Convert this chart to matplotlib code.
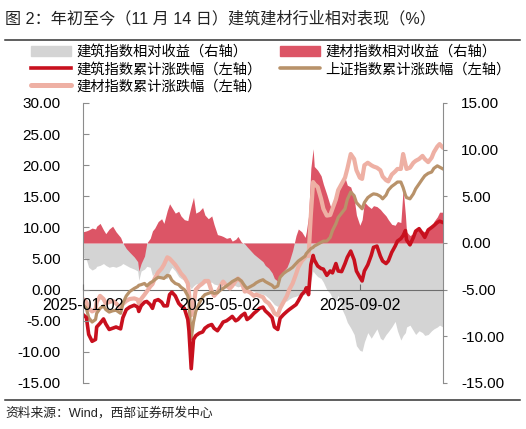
import matplotlib
matplotlib.use('Agg')
import matplotlib.pyplot as plt
import matplotlib.dates as mdates
from matplotlib.lines import Line2D
import pandas as pd

plt.rcParams['font.family'] = ['Liberation Sans', 'Noto Sans CJK SC', 'DejaVu Sans']

dates = pd.to_datetime([
    '2025-01-02', '2025-01-05', '2025-01-07', '2025-01-10', '2025-01-13', '2025-01-14', '2025-01-17', '2025-01-20',
    '2025-01-22', '2025-01-25', '2025-01-28', '2025-01-31', '2025-02-04', '2025-02-06', '2025-02-09', '2025-02-12',
    '2025-02-16', '2025-02-19', '2025-02-20', '2025-02-22', '2025-02-25', '2025-02-27', '2025-03-02', '2025-03-04',
    '2025-03-06', '2025-03-09', '2025-03-12', '2025-03-14', '2025-03-17', '2025-03-19', '2025-03-21', '2025-03-24',
    '2025-03-27', '2025-03-29', '2025-04-01', '2025-04-04', '2025-04-05', '2025-04-07', '2025-04-09', '2025-04-11',
    '2025-04-14', '2025-04-17', '2025-04-19', '2025-04-22', '2025-04-25', '2025-04-27', '2025-04-30', '2025-05-03',
    '2025-05-05', '2025-05-08', '2025-05-11', '2025-05-13', '2025-05-16', '2025-05-18', '2025-05-21', '2025-05-24',
    '2025-05-26', '2025-05-29', '2025-06-01', '2025-06-03', '2025-06-06', '2025-06-09', '2025-06-11', '2025-06-14',
    '2025-06-17', '2025-06-19', '2025-06-22', '2025-06-24', '2025-06-27', '2025-06-30', '2025-07-02', '2025-07-05',
    '2025-07-08', '2025-07-10', '2025-07-13', '2025-07-16', '2025-07-17', '2025-07-19', '2025-07-21', '2025-07-23',
    '2025-07-24', '2025-07-27', '2025-07-30', '2025-08-01', '2025-08-04', '2025-08-07', '2025-08-09', '2025-08-12',
    '2025-08-14', '2025-08-17', '2025-08-20', '2025-08-22', '2025-08-25', '2025-08-28', '2025-08-30', '2025-09-02',
    '2025-09-04', '2025-09-06', '2025-09-09', '2025-09-12', '2025-09-14', '2025-09-17', '2025-09-20', '2025-09-22',
    '2025-09-25', '2025-09-27', '2025-09-30', '2025-10-03', '2025-10-05', '2025-10-08', '2025-10-10', '2025-10-12',
    '2025-10-13', '2025-10-16', '2025-10-19', '2025-10-21', '2025-10-24', '2025-10-27', '2025-10-29', '2025-11-01',
    '2025-11-04', '2025-11-06', '2025-11-09', '2025-11-11', '2025-11-14',
])

# 建筑指数累计涨跌幅（左轴）
jianzhu_cum = [
    -4.0, -4.5, -7.2, -8.3, -8.0, -6.0, -5.4, -4.7, -5.5, -6.4, -6.2, -6.0, -6.3, -4.5, -3.2, -2.8,
    -2.5, -2.8, -3.5, -2.6, -2.0, -1.9, -2.4, -3.0, -1.8, -1.6, -2.0, -2.6, -2.6, -0.8, -0.4, -1.0,
    -2.2, -2.6, -3.0, -4.8, -6.6, -12.7, -8.0, -7.4, -7.0, -6.8, -6.2, -5.8, -5.6, -6.2, -6.6, -5.8,
    -5.2, -5.0, -4.6, -4.3, -5.0, -4.8, -4.2, -3.8, -4.8, -4.4, -3.8, -3.5, -3.0, -2.8, -3.4, -3.9,
    -4.5, -6.0, -6.4, -4.6, -4.0, -3.5, -3.2, -2.8, -2.4, -1.8, -0.8, -0.2, 0.3, -0.8, 4.0, 5.5,
    4.8, 3.8, 3.4, 3.3, 2.3, 3.0, 2.7, 4.2, 3.0, 2.9, 4.2, 5.2, 6.2, 4.8, 3.0, 2.0,
    1.4, 3.0, 4.0, 5.5, 6.8, 7.0, 5.4, 4.6, 4.2, 4.6, 6.0, 7.0, 7.8, 8.2, 8.7, 9.5,
    8.0, 7.2, 8.4, 9.4, 9.8, 9.0, 8.4, 9.6, 10.0, 10.3, 10.8, 11.0, 10.8,
]
# 上证指数累计涨跌幅（左轴）
shangzheng_cum = [
    -2.4, -3.0, -4.5, -5.2, -4.8, -3.8, -3.0, -2.6, -3.2, -3.6, -3.4, -3.3, -3.8, -2.2, -1.0, -0.3,
    0.2, 0.5, 0.7, 0.8, 1.0, 0.6, 1.1, 1.3, 1.6, 2.0, 1.9, 1.8, 2.3, 2.2, 1.5, 1.0,
    0.8, 0.4, 0.0, -1.0, -2.0, -7.9, -5.2, -3.5, -2.2, -1.2, -0.8, -0.6, -0.4, -0.6, -0.5, 0.0,
    0.2, 0.6, 1.0, 1.3, 1.6, 1.8, 1.4, 0.6, 0.2, 0.5, 0.8, 1.1, 1.4, 1.6, 1.3, 1.0,
    0.7, 0.3, 0.6, 2.0, 2.6, 3.0, 3.2, 3.6, 4.2, 4.6, 5.0, 5.4, 5.8, 6.2, 6.6, 6.8,
    7.0, 7.3, 7.6, 7.8, 7.8, 8.4, 9.5, 10.6, 11.6, 12.3, 13.0, 14.5, 15.7, 15.1, 14.0, 13.4,
    13.0, 14.0, 14.8, 15.2, 15.4, 15.3, 15.0, 14.6, 15.2, 16.0, 16.6, 17.0, 17.3, 17.3, 16.4, 15.2,
    14.8, 14.6, 15.4, 16.2, 17.0, 17.8, 18.3, 18.7, 18.9, 19.5, 19.9, 19.7, 19.4,
]
# 建材指数累计涨跌幅（左轴）
jiancai_cum = [
    -1.5, -2.0, -3.0, -3.5, -3.2, -2.0, -1.0, -1.5, -2.2, -2.0, -1.8, -2.2, -3.0, -2.3, -1.8, -1.5,
    -1.4, -1.6, -2.2, -1.5, -0.8, -0.3, 0.5, 0.9, 1.8, 2.8, 3.4, 4.0, 5.2, 5.0, 4.6, 4.0,
    3.2, 2.6, 2.0, 1.0, -0.5, -4.1, -2.6, 0.0, 0.6, 1.0, 1.4, 1.4, -0.3, -1.0, -0.4, 0.7,
    1.3, 0.6, 0.2, 0.6, 1.4, 1.8, 1.3, -0.3, -0.2, -0.5, -1.0, -0.8, -1.0, -1.2, -1.8, -2.2,
    -3.0, -3.8, -4.1, -3.0, -2.0, -1.0, 0.0, 1.0, 2.5, 3.6, 4.6, 5.2, 5.6, 5.4, 12.0, 17.3,
    17.0, 16.5, 14.6, 13.0, 11.9, 12.0, 13.0, 14.5, 16.0, 17.0, 18.0, 19.4, 21.8, 21.0, 19.2, 18.0,
    17.8, 20.0, 20.4, 20.0, 19.8, 19.6, 19.2, 18.2, 17.6, 17.4, 18.5, 19.0, 19.4, 19.4, 21.8, 20.2,
    19.4, 19.6, 20.4, 20.7, 21.0, 21.5, 21.0, 20.5, 21.2, 22.1, 23.0, 23.4, 22.8,
]
# 建筑指数相对收益（右轴）
jianzhu_rel = [
    -1.5, -1.8, -2.6, -2.9, -2.7, -2.5, -2.4, -2.2, -2.4, -2.6, -2.5, -2.6, -2.4, -2.2, -2.4, -2.6,
    -2.8, -3.0, -4.0, -3.0, -2.8, -2.5, -2.6, -3.5, -3.2, -3.5, -3.6, -3.8, -3.8, -3.0, -2.6, -3.0,
    -3.6, -3.8, -4.0, -4.2, -4.5, -4.9, -4.6, -4.4, -4.3, -4.4, -4.3, -4.2, -4.2, -4.4, -4.5, -4.3,
    -4.2, -4.4, -4.5, -4.4, -4.6, -4.7, -4.6, -4.7, -4.8, -5.0, -5.2, -5.3, -5.4, -5.5, -5.6, -5.9,
    -6.3, -6.6, -6.8, -6.5, -6.3, -6.2, -6.0, -5.8, -5.7, -5.6, -5.5, -5.5, -5.3, -5.2, -4.0, -3.0,
    -3.2, -3.6, -3.8, -4.2, -5.0, -5.4, -6.0, -6.2, -5.6, -7.0, -7.8, -8.5, -9.1, -9.8, -11.0, -11.5,
    -11.6, -10.6, -9.6, -10.2, -9.8, -9.2, -10.2, -10.4, -9.8, -9.5, -9.0, -8.4, -9.4, -10.4, -9.9, -9.6,
    -9.0, -8.8, -9.4, -9.8, -9.4, -9.6, -9.9, -9.8, -9.4, -9.2, -9.0, -8.8, -9.0,
]
# 建材指数相对收益（右轴）
jiancai_rel = [
    1.2, 1.3, 1.4, 1.6, 1.5, 1.8, 2.1, 1.4, 1.0, 1.5, 1.8, 1.2, 0.6, 0.0, -0.6, -1.0,
    -1.5, -2.0, -3.0, -2.2, -1.4, 0.0, 0.5, 1.3, 1.6, 2.3, 2.6, 2.1, 3.5, 4.2, 3.8, 3.2,
    3.4, 2.9, 2.5, 2.4, 3.0, 4.0, 4.9, 3.2, 3.4, 3.8, 3.0, 2.6, 2.9, 2.0, 0.9, 0.8,
    0.7, 0.5, 0.6, 0.2, 0.4, 0.7, 0.1, -0.1, -0.4, -0.8, -1.2, -1.4, -1.7, -2.0, -2.4, -2.7,
    -3.2, -3.8, -4.1, -3.5, -3.0, -2.6, -2.0, -0.8, 0.8, 1.5, 1.2, 0.6, 1.2, 2.9, 8.0, 10.1,
    8.2, 7.8, 7.2, 6.3, 5.2, 4.0, 3.6, 4.6, 5.5, 6.2, 7.0, 6.2, 6.0, 4.8, 3.0, 1.9,
    2.5, 4.4, 4.0, 3.7, 4.0, 3.9, 3.6, 3.3, 2.9, 2.5, 2.0, 1.9, 2.3, 2.2, 5.8, 3.0,
    1.2, 0.8, 1.0, 1.4, 1.5, 1.3, 1.2, 1.4, 1.6, 2.3, 2.8, 3.3, 3.3,
]

left_ticks = [-15, -10, -5, 0, 5, 10, 15, 20, 25, 30]
right_ticks = [-15, -10, -5, 0, 5, 10, 15]
date_ticks = pd.to_datetime(['2025-01-02', '2025-05-02', '2025-09-02'])

fig = plt.figure(figsize=(5.26, 4.29), dpi=100)
ax = fig.add_axes([83 / 526, 1 - 383 / 429, 360 / 526, 280 / 429])
ax2 = ax.twinx()

# fills on the right axis, lines on top on the left axis
ax2.fill_between(dates, 0, jianzhu_rel, color='#d4d4d4', linewidth=0)
ax2.fill_between(dates, 0, jiancai_rel, color='#dc5566', linewidth=0)
ax.set_zorder(ax2.get_zorder() + 1)
ax.patch.set_visible(False)
ax.set_axisbelow(False)  # date labels sit above the lines

ax.plot(dates, jiancai_cum, color='#eeb0a4', linewidth=3.0, solid_capstyle='round')
ax.plot(dates, shangzheng_cum, color='#b8926a', linewidth=2.3)
ax.plot(dates, jianzhu_cum, color='#c8101e', linewidth=2.6)

ax.set_xlim(dates[0], dates[-1])
ax.set_ylim(-15, 30)
ax2.set_ylim(-15, 15)
ax.set_yticks(left_ticks)
ax2.set_yticks(right_ticks)
ax.set_yticklabels([f'{v:.2f}' for v in left_ticks])
ax2.set_yticklabels([f'{v:.2f}' for v in right_ticks])
ax.set_xticks(date_ticks)
ax.xaxis.set_major_formatter(mdates.DateFormatter('%Y-%m-%d'))

ax.spines['bottom'].set_position(('data', 0))
for a in (ax, ax2):
    a.spines['top'].set_visible(False)
ax2.spines['bottom'].set_visible(False)
ax.spines['right'].set_visible(False)
ax2.spines['left'].set_visible(False)
ax.spines['left'].set_color('#8c8c8c')
ax2.spines['right'].set_color('#8c8c8c')
ax.spines['bottom'].set_color('#6e6e6e')
ax.spines['bottom'].set_zorder(1.5)

ax.tick_params(axis='y', direction='in', length=4, color='#8c8c8c', labelsize=11, pad=16)
ax2.tick_params(axis='y', direction='out', length=3, color='#8c8c8c', labelsize=11, pad=10)
ax.tick_params(axis='x', direction='in', length=4, color='#6e6e6e', labelsize=11.5, pad=6)

handles = [
    plt.Rectangle((0, 0), 1, 1, color='#d4d4d4'),
    Line2D([], [], color='#c8101e', linewidth=2.6),
    Line2D([], [], color='#eeb0a4', linewidth=3.6, solid_capstyle='round'),
    plt.Rectangle((0, 0), 1, 1, color='#dc5566'),
    Line2D([], [], color='#b8926a', linewidth=2.6, solid_capstyle='round'),
]
labels = [
    '建筑指数相对收益（右轴）',
    '建筑指数累计涨跌幅（左轴）',
    '建材指数累计涨跌幅（左轴）',
    '建材指数相对收益（右轴）',
    '上证指数累计涨跌幅（左轴）',
]
fig.legend(handles, labels, ncol=2, loc='upper left', bbox_to_anchor=(31 / 526, 1 - 45 / 429),
           frameon=False, prop={'family': ['Noto Sans CJK SC'], 'size': 10.3},
           handlelength=2.8, handleheight=0.7, handletextpad=0.35, columnspacing=1.3,
           labelspacing=0.22, borderaxespad=0, borderpad=0)

fig.text(5 / 526, 1 - 18 / 429, '图 2：年初至今（11 月 14 日）建筑建材行业相对表现（%）',
         fontsize=11.6, va='center', ha='left', color='#222222')
fig.text(5 / 526, 1 - 413 / 429, '资料来源：Wind，西部证券研发中心',
         fontsize=9.2, va='center', ha='left', color='#222222')
fig.add_artist(Line2D([5 / 526, 520 / 526], [1 - 40 / 429, 1 - 40 / 429],
                      transform=fig.transFigure, color='#333333', linewidth=1.1))
fig.add_artist(Line2D([5 / 526, 520 / 526], [1 - 400 / 429, 1 - 400 / 429],
                      transform=fig.transFigure, color='#333333', linewidth=1.1))

fig.savefig('out.png', dpi=100)
